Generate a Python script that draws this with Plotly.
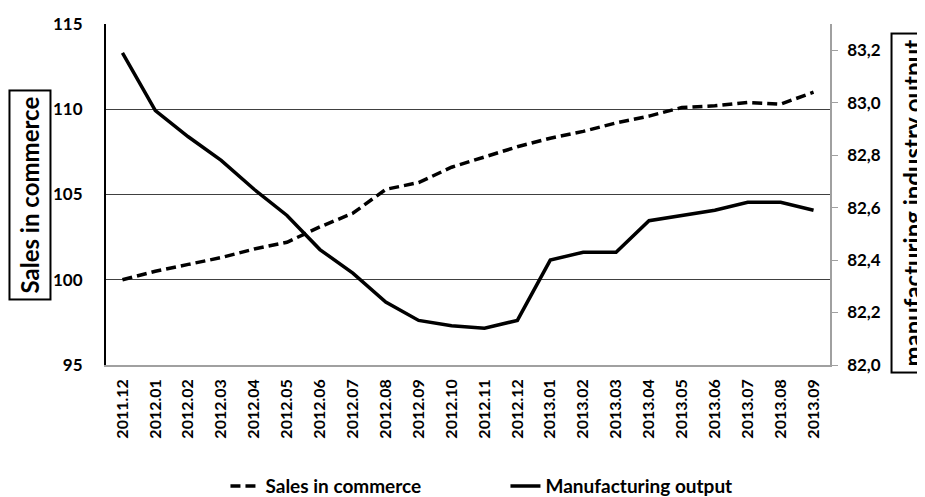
import plotly.graph_objects as go

months = ["2011.12", "2012.01", "2012.02", "2012.03", "2012.04", "2012.05", "2012.06",
          "2012.07", "2012.08", "2012.09", "2012.10", "2012.11", "2012.12", "2013.01",
          "2013.02", "2013.03", "2013.04", "2013.05", "2013.06", "2013.07", "2013.08",
          "2013.09"]
sales = [100.0, 100.5, 100.9, 101.3, 101.8, 102.2, 103.1, 103.9, 105.3, 105.7, 106.6,
         107.2, 107.8, 108.3, 108.7, 109.2, 109.6, 110.1, 110.2, 110.4, 110.3, 111.0]
manufacturing = [83.19, 82.97, 82.87, 82.78, 82.67, 82.57, 82.44, 82.35, 82.24, 82.17,
                 82.15, 82.14, 82.17, 82.40, 82.43, 82.43, 82.55, 82.57, 82.59, 82.62,
                 82.62, 82.59]
left_ticks = [95, 100, 105, 110, 115]
right_ticks = [82.0, 82.2, 82.4, 82.6, 82.8, 83.0, 83.2]

FONT = "Lato"

fig = go.Figure()
fig.add_trace(go.Scatter(x=months, y=sales, name="Sales in commerce", mode="lines",
                         line=dict(color="black", width=3.5, dash="10px,5px"),
                         yaxis="y"))
fig.add_trace(go.Scatter(x=months, y=manufacturing, name="Manufacturing output",
                         mode="lines", line=dict(color="black", width=3.5),
                         yaxis="y2"))

fig.update_layout(
    width=925, height=497,
    margin=dict(l=98, r=103, t=16, b=140, autoexpand=False),
    paper_bgcolor="white", plot_bgcolor="white",
    separators=", ",
    font=dict(family=FONT, color="black", size=16, weight="bold"),
    showlegend=True,
    legend=dict(orientation="h", x=0.165, xanchor="left", y=-0.355, yanchor="middle",
                font=dict(size=19, family=FONT, weight="bold"), itemwidth=30,
                entrywidth=235, bgcolor="rgba(0,0,0,0)"),
    xaxis=dict(type="category", range=[-0.5, len(months) - 0.5], showgrid=False,
               showline=True, linecolor="#a0a0a0",
               linewidth=1.5, tickangle=-90, ticks="outside", ticklen=6,
               tickcolor="rgba(0,0,0,0)", automargin=False,
               tickfont=dict(size=16, family=FONT, weight="bold")),
    yaxis=dict(range=[95, 115], tickvals=left_ticks, showgrid=True,
               gridcolor="#404040", gridwidth=1.3, showline=True, linecolor="black",
               linewidth=2, ticks="outside", ticklen=18, tickcolor="rgba(0,0,0,0)",
               zeroline=False, automargin=False,
               tickfont=dict(size=17, family=FONT, weight="bold")),
    yaxis2=dict(range=[82.0, 83.3], tickvals=right_ticks, tickformat=".1f",
                overlaying="y", side="right", showgrid=False, showline=True,
                linecolor="#a0a0a0", linewidth=1.5, ticks="outside", ticklen=6,
                tickcolor="#a0a0a0", zeroline=False, automargin=False,
                ticklabelstandoff=6,
                tickfont=dict(size=17, family=FONT, weight="bold")),
)

fig.add_annotation(text="Sales in commerce", xref="paper", yref="paper",
                   x=-0.105, y=0.5, xanchor="center", yanchor="middle",
                   textangle=-90, showarrow=False,
                   font=dict(size=24, family=FONT, weight="bold", color="black"),
                   bordercolor="black", borderwidth=2, borderpad=5, bgcolor="white")
fig.add_annotation(text="manufacturing industry output", xref="paper", yref="paper",
                   x=1.1133, y=0.4736, xanchor="center", yanchor="middle",
                   textangle=-90, showarrow=False,
                   font=dict(size=24, family=FONT, weight="bold", color="black"),
                   bordercolor="black", borderwidth=2, borderpad=5, bgcolor="white")

fig.write_html("out.html")
